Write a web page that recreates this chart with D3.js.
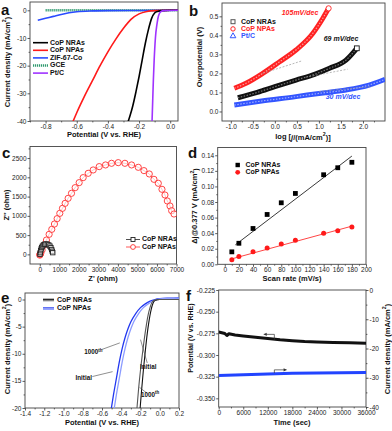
<!DOCTYPE html>
<html>
<head>
<meta charset="utf-8">
<script src="https://cdn.jsdelivr.net/npm/d3@7"></script>
<style>
body { margin: 0; background: #fff; }
svg { display: block; }
text { font-family: "Liberation Sans", Arial, sans-serif; }
</style>
</head>
<body>
<div id="vis"></div>
<script>
// ---- panel a: polarization curves (V vs RHE, mA/cm2)
var aNRAsV = [-0.275, -0.26, -0.24, -0.22, -0.2, -0.18, -0.16, -0.14, -0.12, -0.1, -0.08, -0.05, 0.0, 0.05];
var aNRAsJ = [-41, -38.5, -34.5, -29.5, -24, -18, -12, -7, -3, -1, -0.4, -0.1, 0, 0];
var aNPAsV = [-0.63, -0.6, -0.55, -0.5, -0.45, -0.4, -0.35, -0.3, -0.25, -0.2, -0.15, -0.1, 0.0, 0.05];
var aNPAsJ = [-41, -37, -31, -25.5, -20, -15, -10.5, -6.5, -3.2, -1.3, -0.4, -0.1, 0, 0];
var aZIFV = [-0.85, -0.8, -0.75, -0.7, -0.65, -0.6, -0.5, -0.4, -0.2, 0.05];
var aZIFJ = [-3.6, -2.9, -2.2, -1.5, -0.9, -0.5, -0.2, -0.1, -0.05, 0];
var aGCEV = [-0.8, 0.05];
var aGCEJ = [0, 0];
var aPtV = [-0.117, -0.112, -0.108, -0.103, -0.095, -0.085, -0.075, -0.06, -0.04, 0.05];
var aPtJ = [-41, -32, -25, -18, -10, -5, -2, -0.5, -0.1, 0];

// ---- panel b: Tafel plots
var bNRAsX = [-0.84, -0.4, 0, 0.48, 0.9, 1.24, 1.615, 1.86];
var bNRAsY = [0.072, 0.1, 0.13, 0.165, 0.195, 0.227, 0.27, 0.332];
var bNPAsX = [-0.92, -0.655, -0.276, 0.1, 0.48, 0.86, 1.09, 1.22];
var bNPAsY = [0.122, 0.148, 0.2, 0.26, 0.323, 0.41, 0.49, 0.542];
var bPtX = [-0.92, -0.3, 0.48, 1.0, 1.615, 2.14, 2.5];
var bPtY = [0.034, 0.055, 0.078, 0.095, 0.113, 0.139, 0.169];
var bFitX = [[-0.28, 0.6], [0.7, 1.65], [1.0, 2.2]];
var bFitY = [[0.2, 0.265], [0.18, 0.222], [0.105, 0.131]];
var bSlopes = ["105mV/dec", "69 mV/dec", "30 mV/dec"];

// ---- panel c: Nyquist plots (ohm)
var cNPAsX = [0, 10, 25, 51, 120, 222, 342, 479, 615, 752, 889, 1026, 1162, 1299, 1453, 1624, 1812, 2017, 2222, 2479, 2735, 3043, 3367, 3675, 4017, 4359, 4701, 5043, 5333, 5607, 5846, 6068, 6256, 6410, 6530, 6667, 6752, 6872];
var cNPAsY = [-20, 0, 10, 26, 113, 242, 372, 520, 650, 788, 927, 1065, 1195, 1325, 1455, 1585, 1732, 1862, 1992, 2104, 2191, 2278, 2321, 2364, 2381, 2364, 2321, 2260, 2174, 2087, 1948, 1845, 1689, 1541, 1386, 1256, 1134, 1048];
var cNRAsX = [10, 25, 45, 70, 100, 140, 190, 250, 320, 390, 460, 520, 570, 610, 640, 665];
var cNRAsY = [5, 45, 95, 140, 180, 215, 245, 262, 268, 262, 245, 215, 175, 125, 80, 45];

// ---- panel d: double-layer capacitance
var dRate = [10, 20, 40, 60, 80, 100, 140, 160, 180];
var dNRAs = [0.016, 0.027, 0.046, 0.064, 0.079, 0.091, 0.115, 0.124, 0.131];
var dNPAs = [0.006, 0.010, 0.016, 0.021, 0.026, 0.031, 0.040, 0.043, 0.048];
var dFitX = [[15, 180], [10, 180]];
var dFitY = [[0.025, 0.139], [0.007, 0.049]];

// ---- panel e: durability (initial / 1000th)
var eNRAsIniV = [-0.206, -0.19, -0.17, -0.15, -0.13, -0.11, -0.09, -0.07, -0.05, 0, 0.2];
var eNRAsIniJ = [-20.5, -17, -13, -9.5, -6.3, -3.8, -1.9, -0.7, -0.2, 0, 0];
var eNRAsEndV = [-0.239, -0.22, -0.2, -0.18, -0.16, -0.14, -0.12, -0.1, -0.08, -0.05, 0, 0.2];
var eNRAsEndJ = [-20.5, -16.5, -13, -10, -7.2, -4.8, -2.8, -1.4, -0.5, -0.1, 0, 0];
var eNPAsIniV = [-0.507, -0.48, -0.45, -0.42, -0.39, -0.36, -0.33, -0.3, -0.25, -0.2, -0.15, -0.1, -0.05, 0, 0.1, 0.2];
var eNPAsIniJ = [-20.5, -17.5, -14.5, -11.5, -9, -7, -5.4, -4.1, -2.6, -1.5, -0.8, -0.3, 0, 0.15, 0.25, 0.3];
var eNPAsEndV = [-0.477, -0.45, -0.42, -0.39, -0.36, -0.33, -0.3, -0.27, -0.22, -0.17, -0.12, -0.07, -0.03, 0, 0.1, 0.2];
var eNPAsEndJ = [-20.5, -17.5, -14.5, -11.5, -9, -7, -5.4, -4.1, -2.6, -1.5, -0.8, -0.3, 0, 0.1, 0.2, 0.25];

// ---- panel f: chronopotentiometry (left) / chronoamperometry (right)
var fTime = [0, 500, 1500, 2000, 2500, 4000, 6000, 9000, 12000, 15000, 18000, 21000, 24000, 28000, 32000, 36000];
var fPot = [-0.2735, -0.274, -0.2752, -0.2775, -0.2755, -0.277, -0.278, -0.2795, -0.281, -0.2825, -0.2835, -0.2845, -0.285, -0.2855, -0.286, -0.2865];
var fCurTime = [0, 6000, 12000, 18000, 24000, 30000, 36000];
var fCur = [-29.2, -29.0, -28.7, -28.5, -28.4, -28.3, -28.2];

var width = 392;
var height = 431;
var tickFont = 6.5;
var titleFont = 7.5;
var legFont = 7;

var svg = d3.select('#vis').append('svg').attr('width', width).attr('height', height);
var defs = svg.append('defs');
var clipCount = 0;

function minus(f) {
    return function (v) { return f(v).replace('\u2212', '-'); };
}

function styleTicks(sel) {
    sel.selectAll('.domain').remove();
    sel.selectAll('.tick line').attr('stroke', '#333').attr('stroke-width', 0.8);
    sel.selectAll('.tick text').attr('font-size', tickFont).attr('fill', '#222')
        .attr('font-family', '"Liberation Sans", Arial, sans-serif');
}

function makePanel(p) {
    var x = d3.scaleLinear().domain(p.xDom).range([p.l, p.r]);
    var y = d3.scaleLinear().domain(p.yDom).range([p.b, p.t]);
    var g = svg.append('g');

    g.append('g').attr('transform', 'translate(0,' + p.b + ')')
        .call(d3.axisBottom(x).tickValues(p.xTicks).tickSize(2.5).tickPadding(1).tickFormat(minus(p.fx)));
    g.append('g').attr('transform', 'translate(' + p.l + ',0)')
        .call(d3.axisLeft(y).tickValues(p.yTicks).tickSize(2.5).tickPadding(1).tickFormat(minus(p.fy)));
    if (p.xMinor) {
        g.append('g').attr('transform', 'translate(0,' + p.b + ')')
            .call(d3.axisBottom(x).tickValues(p.xMinor).tickSize(1.4).tickFormat(''));
    }
    if (p.yMinor) {
        g.append('g').attr('transform', 'translate(' + p.l + ',0)')
            .call(d3.axisLeft(y).tickValues(p.yMinor).tickSize(1.4).tickFormat(''));
    }
    styleTicks(g);

    g.append('rect')
        .attr('x', p.l).attr('y', p.t)
        .attr('width', p.r - p.l).attr('height', p.b - p.t)
        .attr('fill', 'none').attr('stroke', '#444').attr('stroke-width', 0.9);

    var id = 'clip' + (clipCount++);
    defs.append('clipPath').attr('id', id).append('rect')
        .attr('x', p.l).attr('y', p.t).attr('width', p.r - p.l).attr('height', p.b - p.t);
    var plot = g.append('g').attr('clip-path', 'url(#' + id + ')');

    return { g: g, plot: plot, x: x, y: y };
}

function zip(xs, ys) {
    return xs.map(function (v, i) { return [v, ys[i]]; })
        .sort(function (a, b) { return a[0] - b[0]; });
}

function drawCurve(pn, xs, ys, color, w, curve, dash) {
    var line = d3.line()
        .x(function (d) { return pn.x(d[0]); })
        .y(function (d) { return pn.y(d[1]); })
        .curve(curve || d3.curveMonotoneX);
    var path = pn.plot.append('path')
        .datum(zip(xs, ys))
        .attr('d', line)
        .attr('fill', 'none')
        .attr('stroke', color)
        .attr('stroke-width', w)
        .attr('stroke-linejoin', 'round');
    if (dash) path.attr('stroke-dasharray', dash);
    return path;
}

function label(x, y, txt, size, opts) {
    opts = opts || {};
    var t = svg.append('text')
        .attr('x', x).attr('y', y)
        .attr('font-size', size)
        .attr('font-weight', opts.weight || 'bold')
        .attr('fill', opts.fill || '#111')
        .attr('text-anchor', opts.anchor || 'start')
        .attr('dominant-baseline', 'middle')
        .text(txt);
    if (opts.rotate) t.attr('transform', 'rotate(' + opts.rotate + ',' + x + ',' + y + ')');
    if (opts.italic) t.attr('font-style', 'italic');
    return t;
}

function sup(t, s, after) {
    t.append('tspan').attr('baseline-shift', 'super').attr('font-size', '70%').text(s);
    if (after) t.append('tspan').text(after);
    return t;
}

// ================= panel a =================
var pa = makePanel({
    l: 30, r: 178, t: 2, b: 121,
    xDom: [-0.9, 0.05], yDom: [-40, 3],
    xTicks: [-0.8, -0.6, -0.4, -0.2, 0], yTicks: [0, -10, -20, -30, -40],
    xMinor: [-0.9, -0.7, -0.5, -0.3, -0.1], yMinor: [-5, -15, -25, -35],
    fx: d3.format('.1f'), fy: d3.format('d')
});
drawCurve(pa, aGCEV, aGCEJ, '#2e9a6e', 2.4, null, '1.2,0.8');
drawCurve(pa, aZIFV, aZIFJ, '#2a4bff', 1.6);
drawCurve(pa, aNPAsV, aNPAsJ, '#ff1a1a', 1.6);
drawCurve(pa, aNRAsV, aNRAsJ, '#000', 1.6);
drawCurve(pa, aPtV, aPtJ, '#a033ff', 1.6);

var aNames = ['CoP NRAs', 'CoP NPAs', 'ZIF-67-Co', 'GCE', 'Pt/C'];
var aColors = ['#000', '#ff1a1a', '#2a4bff', '#2e9a6e', '#a033ff'];
aNames.forEach(function (n, i) {
    var yy = 42.7 + i * 7.6;
    var ln = svg.append('line').attr('x1', 33).attr('x2', 48).attr('y1', yy).attr('y2', yy)
        .attr('stroke', aColors[i]).attr('stroke-width', i === 3 ? 2.4 : 1.6);
    if (i === 3) ln.attr('stroke-dasharray', '1.2,0.8');
    label(50, yy, n, legFont);
});
sup(label(8, 62, 'Current density (mA/cm', titleFont, { anchor: 'middle', rotate: -90 }), '2', ')');
label(104, 135.5, 'Potential (V vs. RHE)', titleFont, { anchor: 'middle' });
label(1, 11, 'a', 15);

// ================= panel b =================
var pb = makePanel({
    l: 222, r: 385, t: 3, b: 121,
    xDom: [-1.2, 2.5], yDom: [-0.05, 0.57],
    xTicks: [-1.0, -0.5, 0, 0.5, 1.0, 1.5, 2.0], yTicks: [0, 0.1, 0.2, 0.3, 0.4, 0.5],
    xMinor: [-0.75, -0.25, 0.25, 0.75, 1.25, 1.75, 2.25], yMinor: [0.05, 0.15, 0.25, 0.35, 0.45],
    fx: d3.format('.1f'), fy: d3.format('.1f')
});
var bColors = ['#111', '#ff2222', '#3355ff'];
var bLight = ['#777', '#ff9a9a', '#9aaaff'];
[[bNRAsX, bNRAsY], [bNPAsX, bNPAsY], [bPtX, bPtY]].forEach(function (s, i) {
    drawCurve(pb, s[0], s[1], bColors[i], 5);
    drawCurve(pb, s[0], s[1], bLight[i], 1.2, null, '1.5,1.5');
});
bFitX.forEach(function (fx, i) {
    pb.plot.append('line')
        .attr('x1', pb.x(fx[0])).attr('x2', pb.x(fx[1]))
        .attr('y1', pb.y(bFitY[i][0])).attr('y2', pb.y(bFitY[i][1]))
        .attr('stroke', '#999').attr('stroke-width', 0.7).attr('stroke-dasharray', '2,1.5');
});
// end markers
pb.g.append('circle').attr('cx', pb.x(bNPAsX[bNPAsX.length - 1])).attr('cy', pb.y(bNPAsY[bNPAsY.length - 1]))
    .attr('r', 2.6).attr('fill', '#fff').attr('stroke', '#ff2222').attr('stroke-width', 0.9);
pb.g.append('rect').attr('x', pb.x(bNRAsX[bNRAsX.length - 1]) - 2.4).attr('y', pb.y(bNRAsY[bNRAsY.length - 1]) - 2.4)
    .attr('width', 4.8).attr('height', 4.8).attr('fill', '#fff').attr('stroke', '#111').attr('stroke-width', 0.9);

label(300, 13, bSlopes[0], legFont, { anchor: 'middle', fill: '#ff2222', italic: true });
label(341, 39.5, bSlopes[1], legFont, { anchor: 'middle', fill: '#111', italic: true });
label(343, 97, bSlopes[2], legFont, { anchor: 'middle', fill: '#3355ff', italic: true });

var bNames = ['CoP NRAs', 'CoP NPAs', 'Pt/C'];
bNames.forEach(function (n, i) {
    var yy = 21.7 + i * 7.2;
    var cx = 233;
    if (i === 0) svg.append('rect').attr('x', cx - 2).attr('y', yy - 2).attr('width', 4).attr('height', 4)
        .attr('fill', 'none').attr('stroke', '#555').attr('stroke-width', 1);
    if (i === 1) svg.append('circle').attr('cx', cx).attr('cy', yy).attr('r', 2.2)
        .attr('fill', 'none').attr('stroke', '#ff2222').attr('stroke-width', 1);
    if (i === 2) svg.append('path').attr('d', d3.symbol(d3.symbolTriangle, 14)()).attr('transform', 'translate(' + cx + ',' + yy + ')')
        .attr('fill', 'none').attr('stroke', '#3355ff').attr('stroke-width', 1);
    label(241, yy, n, legFont, { fill: bColors[i] });
});
label(200.5, 57, 'Overpotential (V)', titleFont, { anchor: 'middle', rotate: -90 });
var bx = label(303, 137.5, 'log [', titleFont, { anchor: 'middle' });
bx.append('tspan').attr('font-style', 'italic').text('j');
bx.append('tspan').text('/(mA/cm');
sup(bx, '2', ')]');
label(189, 12, 'b', 15);

// ================= panel c =================
var pc = makePanel({
    l: 30, r: 176.5, t: 146.5, b: 264,
    xDom: [-500, 7000], yDom: [-250, 2800],
    xTicks: d3.range(0, 7001, 1000), yTicks: d3.range(0, 2501, 500),
    xMinor: d3.range(500, 7000, 1000), yMinor: d3.range(250, 2800, 500),
    fx: d3.format('d'), fy: d3.format('d')
});
drawCurve(pc, cNPAsX, cNPAsY, '#ff4a4a', 0.8, d3.curveLinear);
drawCurve(pc, cNRAsX, cNRAsY, '#333', 0.8, d3.curveLinear);
pc.plot.selectAll('.np').data(zip(cNPAsX, cNPAsY)).enter().append('circle')
    .attr('cx', function (d) { return pc.x(d[0]); })
    .attr('cy', function (d) { return pc.y(d[1]); })
    .attr('r', 3.1).attr('fill', '#fff').attr('fill-opacity', 0.6)
    .attr('stroke', '#ff3030').attr('stroke-width', 0.9);
pc.plot.selectAll('.nr').data(zip(cNRAsX, cNRAsY)).enter().append('rect')
    .attr('x', function (d) { return pc.x(d[0]) - 2.2; })
    .attr('y', function (d) { return pc.y(d[1]) - 2.2; })
    .attr('width', 4.4).attr('height', 4.4).attr('fill', '#fff').attr('fill-opacity', 0.6)
    .attr('stroke', '#222').attr('stroke-width', 0.9);
['CoP NRAs', 'CoP NPAs'].forEach(function (n, i) {
    var yy = 239.5 + i * 7.5;
    var col = i === 0 ? '#222' : '#ff3030';
    svg.append('line').attr('x1', 126).attr('x2', 140).attr('y1', yy).attr('y2', yy).attr('stroke', col).attr('stroke-width', 0.8);
    if (i === 0) svg.append('rect').attr('x', 131).attr('y', yy - 2).attr('width', 4).attr('height', 4)
        .attr('fill', '#fff').attr('stroke', col).attr('stroke-width', 0.9);
    else svg.append('circle').attr('cx', 133).attr('cy', yy).attr('r', 2.4)
        .attr('fill', '#fff').attr('stroke', col).attr('stroke-width', 0.9);
    label(142, yy, n, legFont);
});
label(7.5, 205, "Z'' (ohm)", titleFont, { anchor: 'middle', rotate: -90 });
label(103, 279.5, "Z' (ohm)", titleFont, { anchor: 'middle' });
label(2, 154, 'c', 15);

// ================= panel d =================
var pd = makePanel({
    l: 217.7, r: 366, t: 147.5, b: 264.3,
    xDom: [-10, 200], yDom: [0, 0.15],
    xTicks: d3.range(0, 201, 20), yTicks: [0, 0.02, 0.04, 0.06, 0.08, 0.10, 0.12, 0.14],
    xMinor: d3.range(10, 200, 20), yMinor: [0.01, 0.03, 0.05, 0.07, 0.09, 0.11, 0.13],
    fx: d3.format('d'), fy: d3.format('.2f')
});
dFitX.forEach(function (fx, i) {
    pd.plot.append('line')
        .attr('x1', pd.x(fx[0])).attr('x2', pd.x(fx[1]))
        .attr('y1', pd.y(dFitY[i][0])).attr('y2', pd.y(dFitY[i][1]))
        .attr('stroke', i === 0 ? '#222' : '#ff3030').attr('stroke-width', 0.9);
});
pd.plot.selectAll('.sq').data(dRate).enter().append('rect')
    .attr('x', function (d) { return pd.x(d) - 2.4; })
    .attr('y', function (d, i) { return pd.y(dNRAs[i]) - 2.4; })
    .attr('width', 4.8).attr('height', 4.8).attr('fill', '#000');
pd.plot.selectAll('.ci').data(dRate).enter().append('circle')
    .attr('cx', function (d) { return pd.x(d); })
    .attr('cy', function (d, i) { return pd.y(dNPAs[i]); })
    .attr('r', 2.5).attr('fill', '#ff1a1a');
svg.append('rect').attr('x', 235.5).attr('y', 162.8).attr('width', 4.4).attr('height', 4.4).attr('fill', '#000');
svg.append('circle').attr('cx', 237.7).attr('cy', 172.3).attr('r', 2.4).attr('fill', '#ff1a1a');
label(245.5, 165, 'CoP NRAs', legFont);
label(245.5, 172.3, 'CoP NPAs', legFont);
sup(label(195.5, 206, '\u0394j@0.377 V (mA/cm', titleFont, { anchor: 'middle', rotate: -90 }), '2', ')');
label(292, 279.5, 'Scan rate (mV/s)', titleFont, { anchor: 'middle' });
label(188, 154, 'd', 15);

// ================= panel e =================
var pe = makePanel({
    l: 25, r: 179, t: 293, b: 408,
    xDom: [-1.4, 0.2], yDom: [-20, 1.2],
    xTicks: [-1.4, -1.2, -1.0, -0.8, -0.6, -0.4, -0.2, 0, 0.2], yTicks: [0, -5, -10, -15, -20],
    xMinor: [-1.3, -1.1, -0.9, -0.7, -0.5, -0.3, -0.1, 0.1], yMinor: [-2.5, -7.5, -12.5, -17.5],
    fx: d3.format('.1f'), fy: d3.format('d')
});
drawCurve(pe, eNPAsIniV, eNPAsIniJ, '#2238f0', 1.3);
drawCurve(pe, eNPAsEndV, eNPAsEndJ, '#8c9cff', 1.3);
drawCurve(pe, eNRAsIniV, eNRAsIniJ, '#111', 1.1);
drawCurve(pe, eNRAsEndV, eNRAsEndJ, '#555', 1.1);

// annotation leaders (data coords)
var eNotes = [
    { t: 'Initial', tx: -0.79, ty: -14.5, x1: -0.7, y1: -14.2, x2: -0.49, y2: -13.3 },
    { t: '1000', tx: -0.69, ty: -9.8, x1: -0.6, y1: -9.2, x2: -0.415, y2: -8.0, s: 'th' },
    { t: 'Initial', tx: -0.12, ty: -12.5, x1: -0.2, y1: -7.4, x2: -0.13, y2: -11.7 },
    { t: '1000', tx: -0.1, ty: -17.6, x1: -0.21, y1: -16.2, x2: -0.13, y2: -17.3, s: 'th' }
];
eNotes.forEach(function (n) {
    svg.append('line').attr('x1', pe.x(n.x1)).attr('y1', pe.y(n.y1)).attr('x2', pe.x(n.x2)).attr('y2', pe.y(n.y2))
        .attr('stroke', '#444').attr('stroke-width', 0.6);
    var t = label(pe.x(n.tx), pe.y(n.ty), n.t, 6.3, { anchor: 'middle' });
    if (n.s) sup(t, n.s);
});
[['CoP NRAs', '#111', '#777'], ['CoP NPAs', '#2238f0', '#8c9cff']].forEach(function (n, i) {
    var yy = 300 + i * 8.6;
    svg.append('line').attr('x1', 43).attr('x2', 54).attr('y1', yy - 0.7).attr('y2', yy - 0.7).attr('stroke', n[1]).attr('stroke-width', 1.2);
    svg.append('line').attr('x1', 43).attr('x2', 54).attr('y1', yy + 0.7).attr('y2', yy + 0.7).attr('stroke', n[2]).attr('stroke-width', 1.2);
    label(57, yy, n[0], legFont);
});
sup(label(8, 349, 'Current density (mA/cm', titleFont, { anchor: 'middle', rotate: -90 }), '2', ')');
label(102, 423, 'Potential (V vs. RHE)', titleFont, { anchor: 'middle' });
label(1, 299, 'e', 15);

// ================= panel f =================
var pf = makePanel({
    l: 218.7, r: 366, t: 290, b: 407,
    xDom: [0, 36000], yDom: [-0.36, -0.225],
    xTicks: d3.range(0, 36001, 6000), yTicks: [-0.225, -0.25, -0.275, -0.3, -0.325, -0.35],
    xMinor: d3.range(3000, 36000, 6000),
    fx: d3.format('d'), fy: d3.format('.3f')
});
var yR = d3.scaleLinear().domain([-40, 0]).range([407, 290]);
var axR = pf.g.append('g').attr('transform', 'translate(366,0)')
    .call(d3.axisRight(yR).tickValues([0, -10, -20, -30, -40]).tickSize(2.5).tickPadding(1).tickFormat(minus(d3.format('d'))));
var axR2 = pf.g.append('g').attr('transform', 'translate(366,0)')
    .call(d3.axisRight(yR).tickValues([-5, -15, -25, -35]).tickSize(1.4).tickFormat(''));
styleTicks(axR);
styleTicks(axR2);

drawCurve(pf, fTime, fPot, '#111', 3, d3.curveLinear);
var fLine = d3.line().x(function (d) { return pf.x(d[0]); }).y(function (d) { return yR(d[1]); });
pf.plot.append('path').datum(zip(fCurTime, fCur)).attr('d', fLine)
    .attr('fill', 'none').attr('stroke', '#2244ff').attr('stroke-width', 3);

// direction arrows
function arrow(pts, toRight) {
    svg.append('path').attr('d', d3.line()(pts)).attr('fill', 'none').attr('stroke', '#333').attr('stroke-width', 0.7);
    var e = pts[pts.length - 1];
    var dx = toRight ? -3 : 3;
    svg.append('path').attr('d', 'M' + e[0] + ',' + e[1] + 'L' + (e[0] + dx) + ',' + (e[1] - 1.6) + 'L' + (e[0] + dx) + ',' + (e[1] + 1.6) + 'Z')
        .attr('fill', '#333');
}
arrow([[pf.x(13600), pf.y(-0.2825)], [pf.x(13600), pf.y(-0.2762)], [pf.x(11000), pf.y(-0.2762)]], false);
arrow([[pf.x(13600), yR(-28.4)], [pf.x(13600), yR(-27.3)], [pf.x(16600), yR(-27.3)]], true);

label(191, 338, 'Potential (V vs. RHE)', 7, { anchor: 'middle', rotate: -90 });
sup(label(388, 349, 'Current density (mA/cm', titleFont, { anchor: 'middle', rotate: -90 }), '2', ')');
label(292, 423, 'Time (sec)', titleFont, { anchor: 'middle' });
label(186, 297, 'f', 15);
</script>
</body>
</html>
